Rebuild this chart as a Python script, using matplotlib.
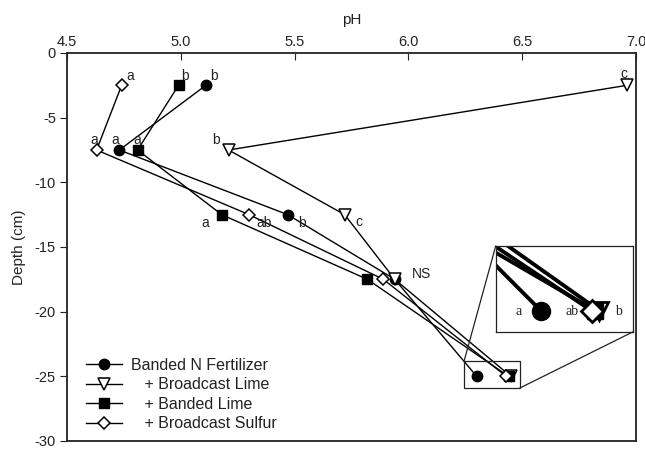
import matplotlib
matplotlib.use("Agg")
import matplotlib.pyplot as plt
from matplotlib.patches import Rectangle, ConnectionPatch

plt.rcParams['font.family'] = ['Liberation Sans', 'DejaVu Sans']

depth = [-2.5, -7.5, -12.5, -17.5, -25]
ph_banded_n = [5.11, 4.73, 5.47, 5.94, 6.30]
ph_bcast_lime = [6.96, 5.21, 5.72, 5.94, 6.45]
ph_banded_lime = [4.99, 4.81, 5.18, 5.82, 6.44]
ph_bcast_sulfur = [4.74, 4.63, 5.30, 5.89, 6.43]

labels = ["Banded N Fertilizer", "   + Broadcast Lime", "   + Banded Lime", "   + Broadcast Sulfur"]
xticks = [4.5, 5.0, 5.5, 6.0, 6.5, 7.0]
yticks = [0, -5, -10, -15, -20, -25, -30]

# significance letters per series, per depth (None = no label)
letters_n = ["b", "a", "b", None, None]
letters_bl = ["c", "b", "c", None, None]
letters_bandl = ["b", "a", "a", None, None]
letters_bs = ["a", "a", "ab", None, None]

series = [
    (ph_banded_n, dict(marker='o', mfc='black', mec='black', ms=7.5)),
    (ph_bcast_lime, dict(marker='v', mfc='white', mec='black', ms=8, mew=1.1)),
    (ph_banded_lime, dict(marker='s', mfc='black', mec='black', ms=6.5)),
    (ph_bcast_sulfur, dict(marker='D', mfc='white', mec='black', ms=6.5, mew=1.1)),
]

fig = plt.figure(figsize=(6.45, 4.49), dpi=100)
ax = fig.add_axes([67/645, 1-441/449, (636-67)/645, (441-53)/449])

for (vals, st), lab in zip(series, labels):
    ax.plot(vals, depth, color='black', lw=1.0, label=lab, **st)

ax.set_xlim(4.5, 7.0)
ax.set_ylim(-30, 0)
ax.set_xticks(xticks)
ax.set_xticklabels([f"{t:.1f}" for t in xticks])
ax.set_yticks(yticks)
ax.set_yticklabels([str(t) for t in yticks])
ax.xaxis.tick_top()
ax.xaxis.set_label_position('top')
ax.tick_params(axis='x', direction='in', length=5, labelsize=10.5, pad=3, colors='#222222')
ax.tick_params(axis='y', direction='out', length=5, labelsize=10.5, pad=3, colors='#222222')
ax.set_xlabel("pH", fontsize=11, labelpad=8, color='#222222')
ax.set_ylabel("Depth (cm)", fontsize=11, labelpad=6, color='#222222')
for sp in ax.spines.values():
    sp.set_linewidth(1.3)
    sp.set_color('#222222')

def ann(x, y, s, dx, dy, ha='center'):
    ax.annotate(s, (x, y), xytext=(dx, dy), textcoords='offset points',
                ha=ha, va='center', fontsize=10, color='#222222')

# letters (offsets in points)
ann(ph_bcast_sulfur[0], depth[0], letters_bs[0], 6, 7)
ann(ph_banded_lime[0], depth[0], letters_bandl[0], 5, 7)
ann(ph_banded_n[0], depth[0], letters_n[0], 6, 7)
ann(ph_bcast_lime[0], depth[0], letters_bl[0], -2, 8)
ann(ph_bcast_sulfur[1], depth[1], letters_bs[1], -2, 7)
ann(ph_banded_n[1], depth[1], letters_n[1], -3, 7)
ann(ph_banded_lime[1], depth[1], letters_bandl[1], 0, 7)
ann(ph_bcast_lime[1], depth[1], letters_bl[1], -9, 7)
ann(ph_banded_lime[2], depth[2], letters_bandl[2], -12, -6)
ann(ph_bcast_sulfur[2], depth[2], letters_bs[2], 11, -6)
ann(ph_banded_n[2], depth[2], letters_n[2], 10, -6)
ann(ph_bcast_lime[2], depth[2], letters_bl[2], 10, -5)
ann(ph_bcast_lime[3], depth[3], "NS", 19, 4)

leg = ax.legend(loc='lower left', bbox_to_anchor=(0.003, -0.02), frameon=False,
                fontsize=11.5, handlelength=2.25, labelspacing=0.28,
                handletextpad=0.55, borderpad=0.6)
for t in leg.get_texts():
    t.set_color('#222222')

# small zoom box
x0, x1, y0, y1 = 6.245, 6.49, -25.9, -23.8
ax.add_patch(Rectangle((x0, y0), x1-x0, y1-y0, fill=False, lw=0.9, ec='#222222', zorder=5))

# inset
iax = fig.add_axes([495.7/645, 1-331.7/449, 137.6/645, 85.7/449])
inset_style = [
    dict(marker='o', mfc='black', mec='black', ms=13),
    dict(marker='v', mfc='white', mec='black', ms=13, mew=2),
    dict(marker='s', mfc='black', mec='black', ms=11),
    dict(marker='D', mfc='white', mec='black', ms=11, mew=2),
]
for (vals, _), st in zip(series, inset_style):
    iax.plot(vals, depth, color='black', lw=2.8, **st)
iax.set_xlim(6.184, 6.537)
iax.set_ylim(-26.12, -21.55)
iax.set_xticks([])
iax.set_yticks([])
for sp in iax.spines.values():
    sp.set_linewidth(0.9)
    sp.set_color('#222222')
for s, fx in zip(["a", "ab", "b"], [0.17, 0.555, 0.895]):
    iax.text(fx, 0.24, s, transform=iax.transAxes, ha='center', va='center',
             fontsize=10, family=['Liberation Serif', 'DejaVu Serif'], color='#222222')

for (xa, ya), (xb, yb) in [((x0, y1), (0, 1)), ((x1, y0), (1, 0))]:
    con = ConnectionPatch(xyA=(xa, ya), coordsA=ax.transData,
                          xyB=(xb, yb), coordsB=iax.transAxes,
                          lw=0.9, color='#222222')
    fig.add_artist(con)

fig.savefig("out.png", dpi=100)
